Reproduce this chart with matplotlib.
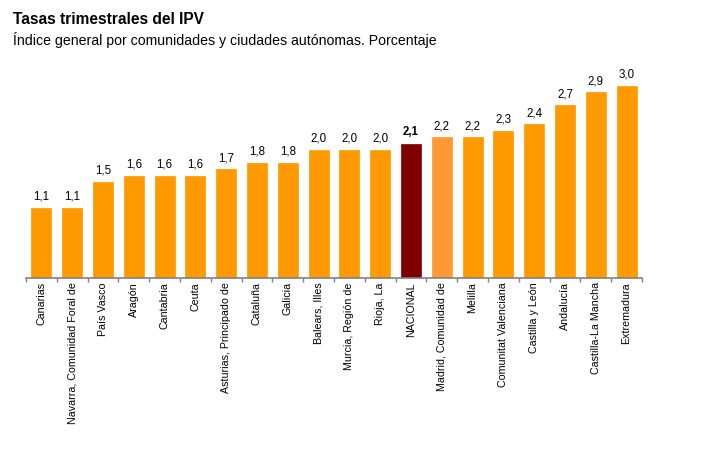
import matplotlib
matplotlib.use("Agg")
import matplotlib.pyplot as plt
import numpy as np

plt.rcParams['font.family'] = ['Liberation Sans', 'DejaVu Sans']

regions = ["Canarias", "Navarra, Comunidad Foral de", "País Vasco", "Aragón", "Cantabria",
           "Ceuta", "Asturias, Principado de", "Cataluña", "Galicia", "Balears, Illes",
           "Murcia, Región de", "Rioja, La", "NACIONAL", "Madrid, Comunidad de", "Melilla",
           "Comunitat Valenciana", "Castilla y León", "Andalucía", "Castilla-La Mancha", "Extremadura"]
values = [1.1, 1.1, 1.5, 1.6, 1.6, 1.6, 1.7, 1.8, 1.8, 2.0, 2.0, 2.0, 2.1, 2.2, 2.2, 2.3, 2.4, 2.7, 2.9, 3.0]

ORANGE = "#FF9900"
NAT = "#800000"
MAD = "#FF9933"
colors = [NAT if r == "NACIONAL" else (MAD if r.startswith("Madrid") else ORANGE) for r in regions]

W, H = 722, 461
fig = plt.figure(figsize=(W / 100, H / 100), dpi=100)
base_px, top3_px = 278, 86
ymax = 3.3
ppu = (base_px - top3_px) / 3.0
top_px = base_px - ymax * ppu
ax = fig.add_axes([26 / W, 1 - base_px / H, (642 - 26) / W, (base_px - top_px) / H])

x = np.arange(len(regions))
ax.bar(x, values, width=0.65, color=colors, edgecolor=colors, linewidth=0.5)
ax.set_xlim(-0.5, len(regions) - 0.5)
ax.set_ylim(0, ymax)

for xi, v, r in zip(x, values, regions):
    ax.text(xi, v + 0.08, f"{v:.1f}".replace(".", ","), ha="center", va="bottom",
            fontsize=8.3, fontweight="bold" if r == "NACIONAL" else "normal", color="black")

for s in ["top", "right", "left"]:
    ax.spines[s].set_visible(False)
ax.spines["bottom"].set_color("#808080")
ax.spines["bottom"].set_linewidth(1.2)
ax.set_yticks([])
ax.set_xticks(np.arange(-0.5, len(regions), 1.0))
ax.tick_params(axis="x", which="major", length=3, color="#808080", width=1, labelbottom=False)
ax.set_xticks(x, minor=True)
ax.set_xticklabels(regions, minor=True, rotation=90, fontsize=7.7, va="top", ha="center")
ax.tick_params(axis="x", which="minor", length=0, pad=3)

fig.text(13 / W, 1 - 20 / H, "Tasas trimestrales del IPV", fontsize=11.2, fontweight="bold",
         ha="left", va="center")
fig.text(13 / W, 1 - 40 / H, "Índice general por comunidades y ciudades autónomas. Porcentaje",
         fontsize=10.2, ha="left", va="center")

fig.savefig("out.png", dpi=100)
